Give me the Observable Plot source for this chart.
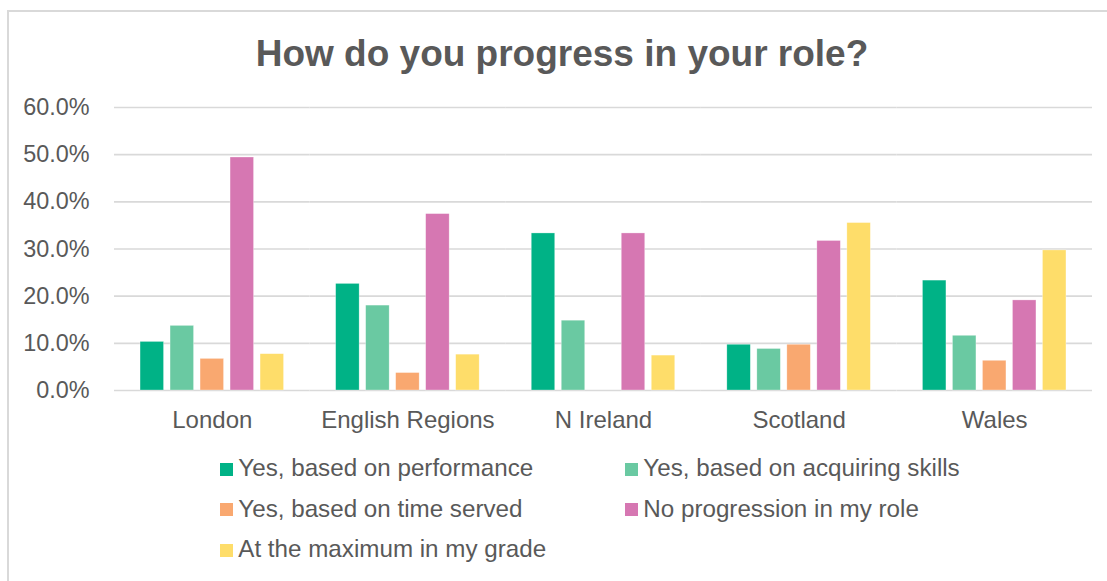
<!DOCTYPE html>
<html>
<head>
<meta charset="utf-8">
<script src="https://cdn.jsdelivr.net/npm/d3@7"></script>
<script src="https://cdn.jsdelivr.net/npm/@observablehq/plot@0.6"></script>
<style>
  html, body { margin: 0; padding: 0; background: #fff; }
  body { width: 1107px; height: 581px; position: relative; overflow: hidden; font-family: "Liberation Sans", Arial, sans-serif; color: #595959; }
  #frame { position: absolute; left: 7px; top: 10px; width: 1120px; height: 600px; border-left: 2px solid #d9d9d9; border-top: 2px solid #d9d9d9; box-sizing: border-box; }
  #title { position: absolute; left: 0; width: 1124px; top: 35.4px; text-align: center; font-size: 37px; line-height: 37px; font-weight: bold; color: #595959; white-space: nowrap; }
  #chart { position: absolute; left: 0; top: 90px; }
  #chart g[aria-label^="fx-axis"] text { font-size: 24px; }
  .item { position: absolute; height: 24px; font-size: 24.2px; line-height: 24.2px; white-space: nowrap; color: #595959; }
  .sw { position: absolute; left: 0; top: 6.8px; width: 12.7px; height: 12.7px; }
  .lbl { position: absolute; left: 18.3px; top: 0; }
</style>
</head>
<body>
<div id="frame"></div>
<div id="title">How do you progress in your role?</div>
<div id="chart"></div>
<div id="legend"></div>
<script>
// ---- data ----
const groups = ["London", "English Regions", "N Ireland", "Scotland", "Wales"];
const seriesNames = [
  "Yes, based on performance",
  "Yes, based on acquiring skills",
  "Yes, based on time served",
  "No progression in my role",
  "At the maximum in my grade"
];
const seriesColors = ["#00B286", "#6AC9A2", "#F9A870", "#D677B2", "#FEDD6A"];
const performance   = [10.3, 22.6, 33.3,  9.7, 23.3];
const skills        = [13.7, 18.0, 14.8,  8.8, 11.6];
const timeServed    = [ 6.7,  3.7,  0.0,  9.7,  6.3];
const noProgression = [49.4, 37.4, 33.3, 31.7, 19.1];
const atMaximum     = [ 7.7,  7.6,  7.4, 35.5, 29.7];
const yTicks = [0, 10, 20, 30, 40, 50, 60];

const seriesValues = [performance, skills, timeServed, noProgression, atMaximum];
const data = [];
groups.forEach((g, gi) => {
  seriesNames.forEach((s, si) => {
    data.push({group: g, series: s, value: seriesValues[si][gi]});
  });
});

const chart = Plot.plot({
  width: 1107,
  height: 350,
  marginLeft: 114,
  marginRight: 15,
  marginTop: 17,
  marginBottom: 50,
  style: {fontSize: "23.4px", fontFamily: "'Liberation Sans', Arial, sans-serif", color: "#595959", background: "transparent", overflow: "visible"},
  facet: {data, x: "group"},
  fx: {domain: groups, padding: 0, label: null, tickSize: 0, tickPadding: 20, round: false},
  x: {domain: seriesNames, paddingInner: 0.217, paddingOuter: 0.868, round: false, axis: null},
  y: {domain: [0, 60], ticks: yTicks, tickFormat: d => d.toFixed(1) + "%", tickSize: 0, tickPadding: 25, label: null},
  color: {domain: seriesNames, range: seriesColors},
  marks: [
    Plot.ruleY(yTicks, {stroke: "#d9d9d9", strokeWidth: 1.6}),
    Plot.barY(data, {x: "series", y: "value", fill: "series", stroke: "#ffffff", strokeOpacity: 0.5, strokeWidth: 0.6})
  ]
});
document.getElementById("chart").appendChild(chart);

// ---- legend ----
const legend = document.getElementById("legend");
const colX = [220, 625];
const rowTop = [456.2, 496.6, 537.2];
seriesNames.forEach((s, i) => {
  const item = document.createElement("div");
  item.className = "item";
  item.style.left = colX[i % 2] + "px";
  item.style.top = rowTop[Math.floor(i / 2)] + "px";
  const sw = document.createElement("span");
  sw.className = "sw";
  sw.style.background = seriesColors[i];
  const lbl = document.createElement("span");
  lbl.className = "lbl";
  lbl.textContent = s;
  item.appendChild(sw);
  item.appendChild(lbl);
  legend.appendChild(item);
});
</script>
</body>
</html>
